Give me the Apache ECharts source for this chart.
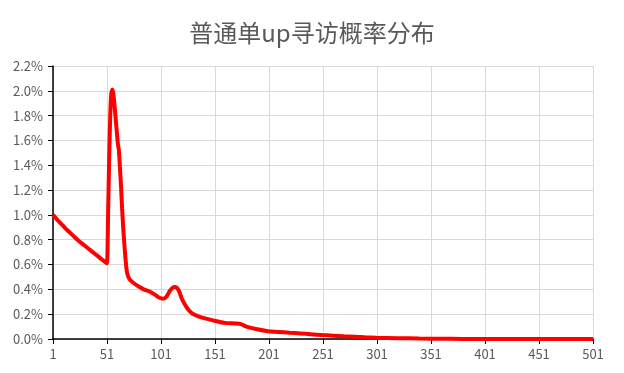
<!DOCTYPE html>
<html><head><meta charset="utf-8">
<script src="https://cdn.jsdelivr.net/npm/echarts@6/dist/echarts.min.js"></script>
<style>html,body{margin:0;padding:0;background:#fff}#c{width:624px;height:373px}</style>
</head><body><div id="c"></div>
<script>
const title = '普通单up寻访概率分布';
const categories = Array.from({length: 501}, (_, i) => String(i + 1));
const pullIndex = [1,5,10,15,20,25,30,35,40,45,50,51,52,53,54,55,56,57,58,59,60,61,62,63,64,65,66,67,68,69,70,72,75,80,85,90,95,100,103,106,109,112,114,116,118,120,123,126,130,135,140,150,160,170,175,180,190,200,210,220,230,240,250,260,270,280,290,300,320,340,360,380,400,450,501];
const probPct = [1.00,0.96,0.915,0.87,0.83,0.79,0.755,0.72,0.685,0.65,0.615,0.61,1.0,1.45,1.8,1.98,2.01,1.97,1.88,1.78,1.68,1.58,1.52,1.38,1.23,1.05,0.90,0.77,0.66,0.57,0.52,0.48,0.455,0.425,0.40,0.385,0.36,0.33,0.325,0.34,0.385,0.415,0.42,0.41,0.38,0.33,0.28,0.24,0.205,0.185,0.17,0.148,0.13,0.125,0.12,0.10,0.078,0.063,0.057,0.05,0.045,0.038,0.032,0.027,0.022,0.018,0.014,0.011,0.007,0.004,0.002,0.001,0,0,0];
const chart = echarts.init(document.getElementById('c'));
const lab = {color:'#595959', fontSize:13, fontFamily:'"Noto Sans CJK SC", sans-serif'};
chart.setOption({
  animation:false,
  title:{text:title,left:'center',top:16,textStyle:{color:'#595959',fontSize:24,fontWeight:'normal',fontFamily:'"Noto Sans CJK SC", sans-serif'}},
  grid:{left:53,right:31,top:66,bottom:34,containLabel:false},
  xAxis:{type:'category',data:categories,boundaryGap:false,
    axisLine:{lineStyle:{color:'#000',width:1.5}},
    axisTick:{interval:49,length:5,lineStyle:{color:'#000'}},
    axisLabel:Object.assign({interval:49,margin:9},lab),
    splitLine:{show:true,interval:49,lineStyle:{color:'#D9D9D9'}}},
  yAxis:{type:'value',min:0,max:2.2,interval:0.2,
    axisLine:{show:true,lineStyle:{color:'#000',width:1.5}},
    axisTick:{show:true,length:5,lineStyle:{color:'#000'}},
    axisLabel:Object.assign({margin:10,formatter:v=>v.toFixed(1)+'%'},lab),
    splitLine:{show:true,lineStyle:{color:'#D9D9D9'}}},
  series:[{type:'line',data:pullIndex.map((x,i)=>[String(x),probPct[i]]),
    smooth:0.25,showSymbol:false,lineStyle:{color:'#FF0000',width:4},itemStyle:{color:'#FF0000'}}]
});
</script></body></html>
